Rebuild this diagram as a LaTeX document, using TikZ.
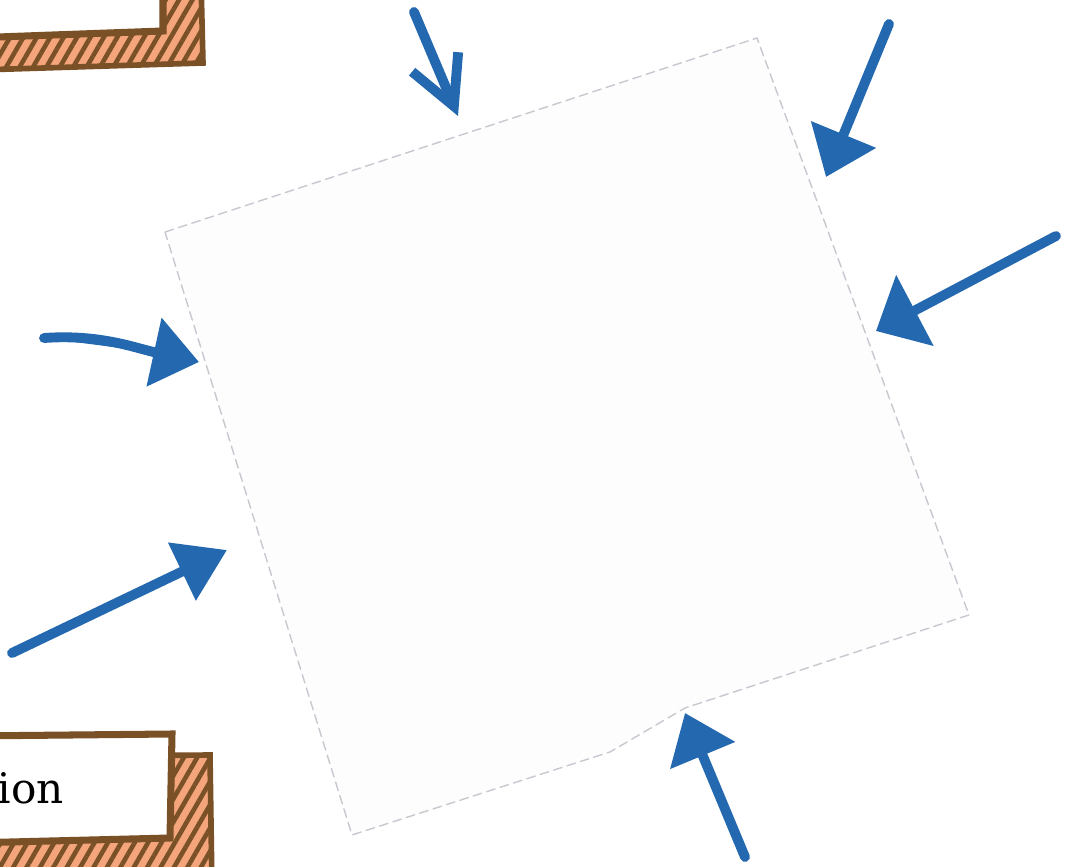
\documentclass[tikz,border=0pt]{standalone}
\usepackage{fontspec}
\newfontfamily\slabfont{DejaVu Serif}
\usetikzlibrary{arrows.meta,patterns.meta}
\definecolor{arrowblue}{HTML}{2469B0}
\definecolor{boxbrown}{HTML}{7A5026}
\definecolor{shadowsalmon}{HTML}{F4A57C}
\definecolor{cardfill}{HTML}{FDFDFE}
\definecolor{carddash}{HTML}{C8C8D0}
\begin{document}
\begin{tikzpicture}[x=0.01cm,y=-0.01cm,>={Triangle[length=4.6mm,width=6.8mm]},line cap=round]
  \tikzset{push/.style={draw=arrowblue, fill=arrowblue, line width=2.8pt, ->},
    card/.style={fill=cardfill, draw=carddash, dash pattern=on 2.5pt off 1.5pt, line width=0.4pt},
    shadowbox/.style={fill=shadowsalmon, draw=boxbrown, line width=1.6pt,
      postaction={pattern={Lines[angle=60,distance=3.3pt,line width=1.3pt]}, pattern color=boxbrown}},
    frontbox/.style={fill=white, draw=boxbrown, line width=2pt}}
  \useasboundingbox (0,0) rectangle (1075,867);
  \clip (0,0) rectangle (1075,867);

  \draw[shadowbox] (-20,-20) -- (201,-20) -- (203,63) -- (-20,70) -- cycle;
  \draw[frontbox] (-30,-30) -- (163,-30) -- (163,31) -- (-30,38) -- cycle;

  \draw[shadowbox] (-20,757) -- (210,755) -- (212,890) -- (-20,890) -- cycle;
  \draw[frontbox] (-30,736) -- (172,734) -- (170,838) -- (-30,843) -- cycle;
  \node[anchor=base west, inner sep=0pt, font=\slabfont\fontsize{12}{14}\selectfont] (lbl) at (-3,803) {ion};

  \coordinate (c1) at (165,232);
  \coordinate (c2) at (757,38);
  \coordinate (c3) at (969,615);
  \coordinate (c4) at (685,708);
  \coordinate (c5) at (610,752);
  \coordinate (c6) at (352,835);
  \draw[card] (c1) -- (c2) -- (c3) -- (c4) -- (c5) -- (c6) -- cycle;

  \coordinate (s1) at (414,12);
  \coordinate (t1) at (458,116);
  \coordinate (s2) at (889,24);
  \coordinate (t2) at (826,177);
  \coordinate (s3) at (1056,236);
  \coordinate (t3) at (876,331);
  \coordinate (s4) at (44,338);
  \coordinate (t4) at (199,362);
  \coordinate (s5) at (12,653);
  \coordinate (t5) at (227,550);
  \coordinate (s6) at (745,857);
  \coordinate (t6) at (685,713);

  \draw[push, -{Straight Barb[length=4.8mm,width=5mm]}] (s1) -- (t1);
  \draw[push] (s2) -- (t2);
  \draw[push, -{Triangle[length=4.4mm,width=7.8mm]}] (s3) -- (t3);
  \draw[push] (s4) .. controls (100,334) and (135,348) .. (t4);
  \draw[push, -{Triangle[length=5mm,width=6.2mm]}] (s5) -- (t5);
  \draw[push] (s6) -- (t6);
\end{tikzpicture}
\end{document}
